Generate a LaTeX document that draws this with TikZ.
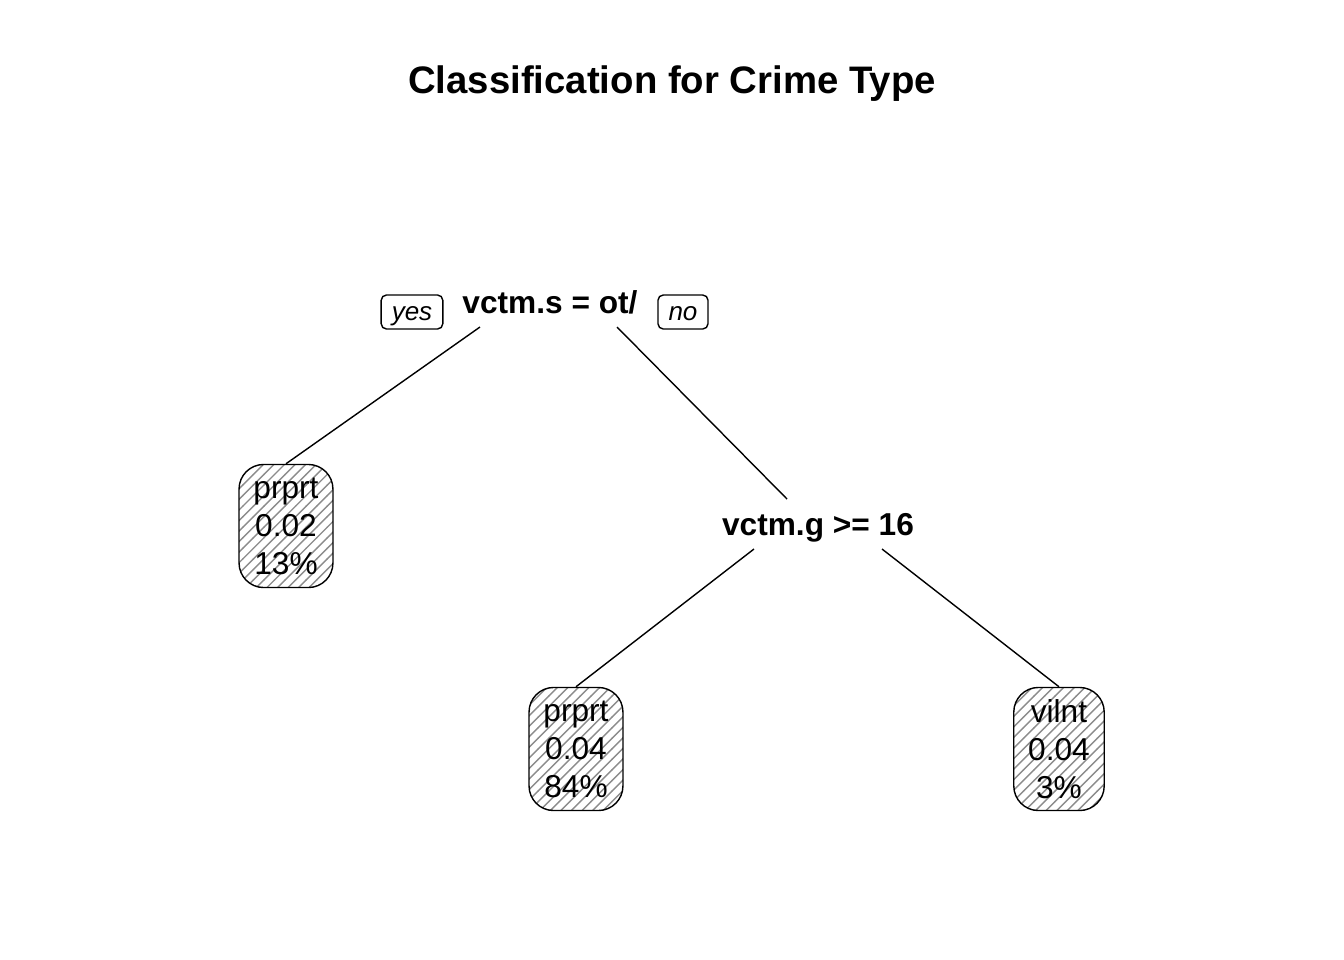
\documentclass[tikz,border=0pt]{standalone}
\usepackage{fontspec}
\setmainfont{Liberation Sans}
\usepackage{tikz}
\usetikzlibrary{patterns, calc}
\tikzset{
    leafNode/.style={draw=black, rounded corners=7pt, pattern=north east lines, pattern color=black!45,
        align=center, inner xsep=4.1pt, inner ysep=0pt, minimum height=1.23cm,
        font=\fontsize{9}{10.8}\selectfont},
    splitLabel/.style={inner sep=0pt, font=\fontsize{9}{10.8}\selectfont\bfseries},
    dirTag/.style={draw=black, rounded corners=1.5pt, inner xsep=3pt, inner ysep=0pt, minimum height=0.34cm,
        text height=0.72em, text depth=0.21em, font=\fontsize{7.4}{8}\selectfont\itshape},
    treeEdge/.style={thin, black}
}
\begin{document}
\begin{tikzpicture}[x=0.01cm, y=-0.01cm]
    \useasboundingbox[fill=white] (0,0) rectangle (1344,960);
    % --- Title ---
    \node[font=\fontsize{10.9}{13}\selectfont\bfseries, anchor=base] (title) at (672,93) {Classification for Crime Type};
    % --- Splits ---
    \node[splitLabel, anchor=base] (root) at (550,313) {vctm.s = ot/};
    \node[dirTag] (yes) at (412,312) {yes};
    \node[dirTag] (no) at (683,312) {no};
    \node[splitLabel, anchor=base] (age) at (818,535) {vctm.g >= 16};
    \coordinate (ageTop) at ($(age.base)+(-31,-36)$);
    % --- Leaves ---
    \node[leafNode] (l1) at (286,526) {prprt\\0.02\\13\%};
    \node[leafNode] (l2) at (576,749) {prprt\\0.04\\84\%};
    \node[leafNode] (l3) at (1059,749) {vilnt\\0.04\\3\%};
    % --- Edges ---
    \draw[treeEdge] ($(root.base)+(-70,14)$) -- (l1.north);
    \draw[treeEdge] ($(root.base)+(67,14)$) -- (ageTop);
    \draw[treeEdge] ($(age.base)+(-64,14)$) -- (l2.north);
    \draw[treeEdge] ($(age.base)+(64,14)$) -- (l3.north);
\end{tikzpicture}
\end{document}
